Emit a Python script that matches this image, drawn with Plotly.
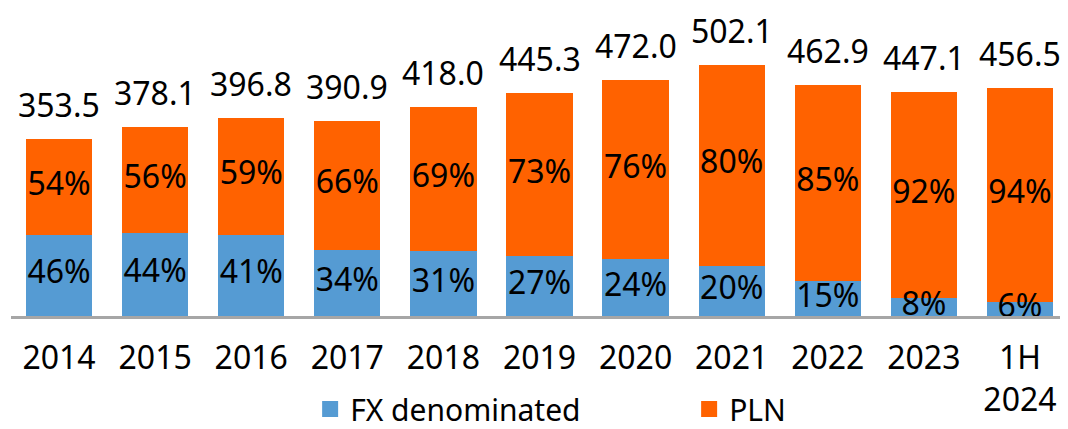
import plotly.graph_objects as go

categories = ["2014", "2015", "2016", "2017", "2018", "2019", "2020", "2021", "2022", "2023", "1H<br>2024"]
totals = [353.5, 378.1, 396.8, 390.9, 418.0, 445.3, 472.0, 502.1, 462.9, 447.1, 456.5]
fx_pct = [46, 44, 41, 34, 31, 27, 24, 20, 15, 8, 6]
pln_pct = [54, 56, 59, 66, 69, 73, 76, 80, 85, 92, 94]

BLUE = "#559BD3"
ORANGE = "#FF6200"
FONT = "Noto Sans"
FS = 32

fx_vals = [t * p / 100 for t, p in zip(totals, fx_pct)]
pln_vals = [t * p / 100 for t, p in zip(totals, pln_pct)]

fig = go.Figure()
fig.add_trace(go.Bar(x=categories, y=fx_vals, marker_color=BLUE, marker_line_width=0,
                     showlegend=False, hoverinfo="skip"))
fig.add_trace(go.Bar(x=categories, y=pln_vals, marker_color=ORANGE, marker_line_width=0,
                     showlegend=False, hoverinfo="skip"))

# segment labels
fig.add_trace(go.Scatter(x=categories, y=[v / 2 for v in fx_vals], mode="text",
                         text=[f"{p}%" for p in fx_pct], textposition="middle center",
                         textfont=dict(family=FONT, size=FS, color="black"),
                         showlegend=False, hoverinfo="skip", cliponaxis=False))
fig.add_trace(go.Scatter(x=categories, y=[f + p / 2 for f, p in zip(fx_vals, pln_vals)], mode="text",
                         text=[f"{p}%" for p in pln_pct], textposition="middle center",
                         textfont=dict(family=FONT, size=FS, color="black"),
                         showlegend=False, hoverinfo="skip", cliponaxis=False))

# legend entries
fig.add_trace(go.Scatter(x=[categories[0]], y=[None], mode="markers", name="FX denominated",
                         marker=dict(symbol="square", size=20, color=BLUE), hoverinfo="skip"))
fig.add_trace(go.Scatter(x=[categories[0]], y=[None], mode="markers", name="PLN",
                         marker=dict(symbol="square", size=20, color=ORANGE), hoverinfo="skip"))

# total labels (x given as category index)
for i, t in enumerate(totals):
    fig.add_annotation(x=i, y=t, xref="x", yref="y", text=f"{t:.1f}", showarrow=False,
                       yanchor="bottom", yshift=11,
                       font=dict(family=FONT, size=FS, color="black"))

# page body has an 8px margin, so the figure is sized/offset to compensate
fig.update_layout(
    width=1060, height=421,
    margin=dict(l=3, r=0, t=8, b=113, autoexpand=False),
    barmode="stack", bargap=0.31,
    plot_bgcolor="white", paper_bgcolor="white",
    font=dict(family=FONT, size=FS, color="black"),
    legend=dict(orientation="h", x=0.283, xanchor="left", y=-0.31, yanchor="middle",
                font=dict(family=FONT, size=30), itemsizing="trace", traceorder="normal",
                entrywidth=334, bgcolor="rgba(0,0,0,0)"),
    showlegend=True,
)
fig.update_xaxes(type="category", categoryorder="array", categoryarray=categories,
                 range=[-0.5, len(categories) - 0.5], automargin=False,
                 showline=True, linecolor="#A6A6A6", linewidth=3, showgrid=False,
                 ticks="outside", ticklen=12, tickcolor="rgba(0,0,0,0)",
                 tickfont=dict(family=FONT, size=FS, color="black"))
fig.update_yaxes(range=[0, 600], visible=False, showgrid=False, automargin=False)

fig.write_html("out.html")
